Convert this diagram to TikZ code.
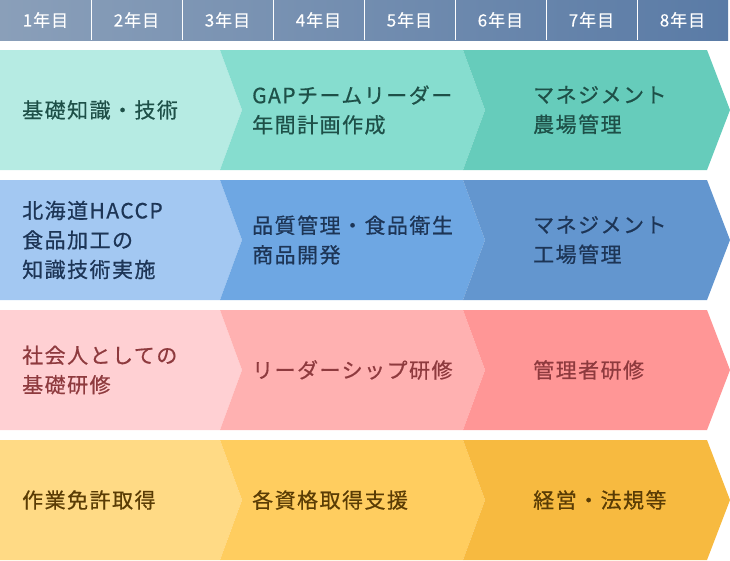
\documentclass[tikz,border=0pt]{standalone}
\usepackage{fontspec}
\newfontfamily\jp[LetterSpace=7,FakeBold=0.6]{Noto Sans CJK JP}
\newfontfamily\jph[LetterSpace=6,FakeBold=0.3]{Noto Sans CJK JP}
\definecolor{hdA}{HTML}{8A9FB9}
\definecolor{hdB}{HTML}{5A7BA6}
\definecolor{gA}{HTML}{B6EBE3}
\definecolor{gB}{HTML}{86DDCF}
\definecolor{gC}{HTML}{66CCBB}
\definecolor{gT}{HTML}{1E5048}
\definecolor{bA}{HTML}{A3C8F2}
\definecolor{bB}{HTML}{6EA7E3}
\definecolor{bC}{HTML}{6396CF}
\definecolor{bT}{HTML}{1D3556}
\definecolor{rA}{HTML}{FFD0D3}
\definecolor{rB}{HTML}{FFB1B1}
\definecolor{rC}{HTML}{FF9696}
\definecolor{rT}{HTML}{8E3A3E}
\definecolor{yA}{HTML}{FFDA85}
\definecolor{yB}{HTML}{FFCD5F}
\definecolor{yC}{HTML}{F7BA40}
\definecolor{yT}{HTML}{5A3C05}
\newcommand\chevrons[4]{%
  \fill[#2] (0,#1) -- (220,#1) -- (242,{#1+60}) -- (220,{#1+120}) -- (0,{#1+120}) -- cycle;
  \fill[#3] (220,#1) -- (463,#1) -- (485,{#1+60}) -- (463,{#1+120}) -- (220,{#1+120}) -- (242,{#1+60}) -- cycle;
  \fill[#4] (463,#1) -- (707,#1) -- (730,{#1+60}) -- (707,{#1+120}) -- (463,{#1+120}) -- (485,{#1+60}) -- cycle;
}
\begin{document}
\begin{tikzpicture}[x=1pt,y=-1pt,
  hdr/.style={text=white,font=\jph\fontsize{17}{19}\selectfont,inner sep=0pt},
  lbl/.style={anchor=west,align=left,inner sep=0pt,font=\jp\fontsize{21}{29.5}\selectfont}]
\useasboundingbox (0,0) rectangle (730,560);
\shade[left color=hdA,right color=hdB] (0,0) rectangle (728,40);
\foreach \i in {1,...,7} \draw[white,line width=1pt] ({\i*91},0) -- ({\i*91},40);
\foreach \i in {1,...,8} \node[hdr] (y\i) at ({\i*91-45.5},20) {{\i}年目};
\chevrons{50}{gA}{gB}{gC}
\chevrons{180}{bA}{bB}{bC}
\chevrons{310}{rA}{rB}{rC}
\chevrons{440}{yA}{yB}{yC}
\node[lbl,text=gT] (g1) at (22,110) {基礎知識・技術};
\node[lbl,text=gT] (g2) at (252,110) {GAPチームリーダー\\年間計画作成};
\node[lbl,text=gT] (g3) at (533,110) {マネジメント\\農場管理};
\node[lbl,text=bT] (b1) at (22,240) {北海道HACCP\\食品加工の\\知識技術実施};
\node[lbl,text=bT] (b2) at (252,240) {品質管理・食品衛生\\商品開発};
\node[lbl,text=bT] (b3) at (533,240) {マネジメント\\工場管理};
\node[lbl,text=rT] (r1) at (22,370) {社会人としての\\基礎研修};
\node[lbl,text=rT] (r2) at (252,370) {リーダーシップ研修};
\node[lbl,text=rT] (r3) at (533,370) {管理者研修};
\node[lbl,text=yT] (y1x) at (22,500) {作業免許取得};
\node[lbl,text=yT] (y2x) at (252,500) {各資格取得支援};
\node[lbl,text=yT] (y3x) at (533,500) {経営・法規等};
\end{tikzpicture}
\end{document}
